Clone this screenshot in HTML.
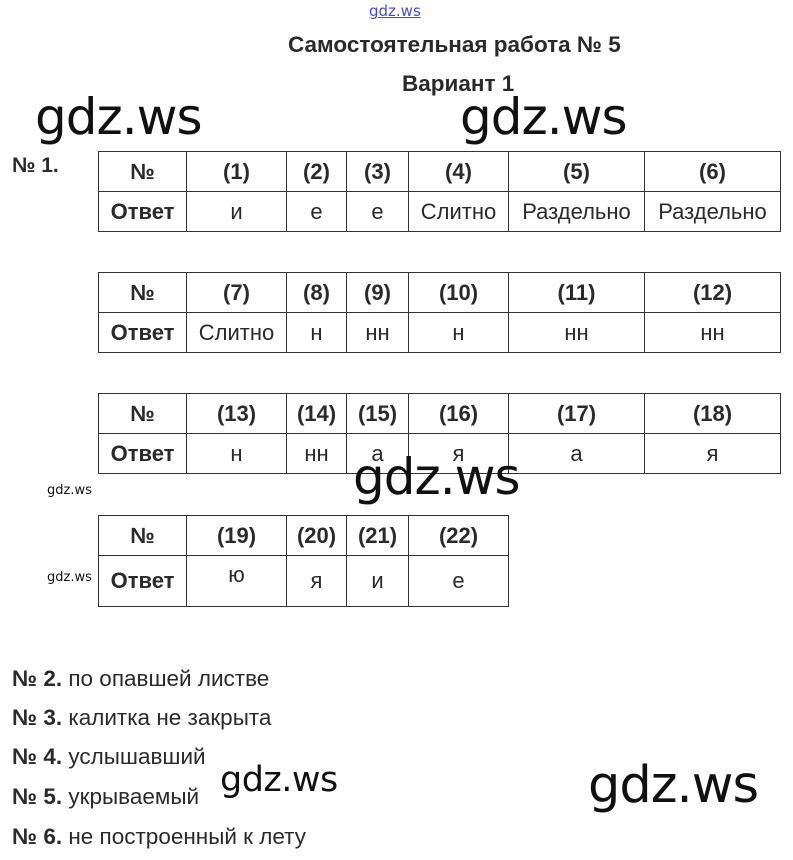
<!DOCTYPE html>
<html><head><meta charset="utf-8"><style>
body{margin:0;width:793px;height:860px;background:#fff;position:relative;overflow:hidden;font-family:"Liberation Sans",sans-serif;color:#2a2a2a}
.a{position:absolute;white-space:nowrap}
table{position:absolute;left:98px;border-collapse:collapse;table-layout:fixed;font-size:22px}
td{border:1.5px solid #333;text-align:center;padding:0;height:39px;vertical-align:middle;white-space:nowrap}
tr:first-child td{font-weight:bold}
td:first-child{font-weight:bold}
.wm{position:absolute;font-family:"DejaVu Sans",sans-serif;color:#111;white-space:nowrap}
.q{font-size:22.5px;left:12px}
.q b{font-weight:bold}
</style></head><body>
<div class="a" style="left:369px;top:2px;font-size:15px;color:#4a4ad0;text-decoration:underline;font-family:'DejaVu Sans',sans-serif">gdz.ws</div>
<div class="a" style="left:288px;top:32px;font-size:22.5px;font-weight:bold">Самостоятельная работа № 5</div>
<div class="a" style="left:402px;top:71px;font-size:22.5px;font-weight:bold">Вариант 1</div>
<div class="wm" style="left:35px;top:88px;font-size:50px;letter-spacing:-1px">gdz.ws</div>
<div class="wm" style="left:460px;top:88px;font-size:50px;letter-spacing:-1px">gdz.ws</div>
<div class="a" style="left:12px;top:154px;font-size:21px;font-weight:bold">№ 1.</div>
<table style="top:151px">
<colgroup><col style="width:88px"><col style="width:100px"><col style="width:60px"><col style="width:62px"><col style="width:100px"><col style="width:136px"><col style="width:136px"></colgroup>
<tr><td>№</td><td>(1)</td><td>(2)</td><td>(3)</td><td>(4)</td><td>(5)</td><td>(6)</td></tr>
<tr><td>Ответ</td><td>и</td><td>е</td><td>е</td><td>Слитно</td><td>Раздельно</td><td>Раздельно</td></tr>
</table>
<table style="top:272px">
<colgroup><col style="width:88px"><col style="width:100px"><col style="width:60px"><col style="width:62px"><col style="width:100px"><col style="width:136px"><col style="width:136px"></colgroup>
<tr><td>№</td><td>(7)</td><td>(8)</td><td>(9)</td><td>(10)</td><td>(11)</td><td>(12)</td></tr>
<tr><td>Ответ</td><td>Слитно</td><td>н</td><td>нн</td><td>н</td><td>нн</td><td>нн</td></tr>
</table>
<table style="top:393px">
<colgroup><col style="width:88px"><col style="width:100px"><col style="width:60px"><col style="width:62px"><col style="width:100px"><col style="width:136px"><col style="width:136px"></colgroup>
<tr><td>№</td><td>(13)</td><td>(14)</td><td>(15)</td><td>(16)</td><td>(17)</td><td>(18)</td></tr>
<tr><td>Ответ</td><td>н</td><td>нн</td><td>а</td><td>я</td><td>а</td><td>я</td></tr>
</table>
<div class="wm" style="left:353px;top:448px;font-size:50px;letter-spacing:-1px">gdz.ws</div>
<div class="wm" style="left:47px;top:483px;font-size:13px">gdz.ws</div>
<table style="top:515px">
<colgroup><col style="width:88px"><col style="width:100px"><col style="width:60px"><col style="width:62px"><col style="width:100px"></colgroup>
<tr><td>№</td><td>(19)</td><td>(20)</td><td>(21)</td><td>(22)</td></tr>
<tr><td style="height:50px">Ответ</td><td style="vertical-align:top;padding-top:6px">ю</td><td>я</td><td>и</td><td>е</td></tr>
</table>
<div class="wm" style="left:47px;top:570px;font-size:13px">gdz.ws</div>
<div class="a q" style="top:666px"><b>№ 2.</b> по опавшей листве</div>
<div class="a q" style="top:705px"><b>№ 3.</b> калитка не закрыта</div>
<div class="a q" style="top:744px"><b>№ 4.</b> услышавший</div>
<div class="a q" style="top:784px"><b>№ 5.</b> укрываемый</div>
<div class="a q" style="top:824px"><b>№ 6.</b> не построенный к лету</div>
<div class="wm" style="left:220px;top:760px;font-size:35px;letter-spacing:-0.5px">gdz.ws</div>
<div class="wm" style="left:588px;top:756px;font-size:51px;letter-spacing:-1px">gdz.ws</div>
</body></html>
